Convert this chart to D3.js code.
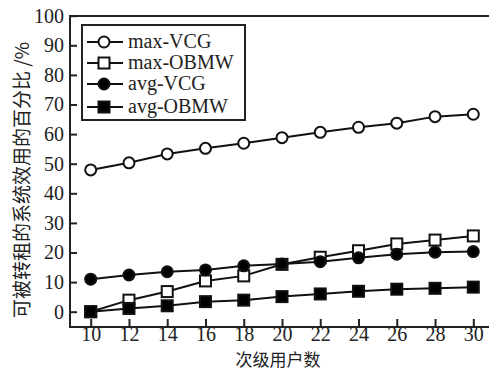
<!DOCTYPE html>
<html>
<head>
<meta charset="utf-8">
<script src="https://cdn.jsdelivr.net/npm/d3@7"></script>
<style>
  html, body { margin: 0; padding: 0; background: #fff; }
  svg { display: block; }
</style>
</head>
<body>
<div id="chart"></div>
<script>
// data
const users = [10, 12, 14, 16, 18, 20, 22, 24, 26, 28, 30];
const maxVCG = [47.9, 50.3, 53.3, 55.2, 56.9, 58.8, 60.6, 62.3, 63.7, 65.9, 66.7];
const maxOBMW = [0, 3.9, 6.8, 10.4, 12.1, 16.0, 18.4, 20.6, 22.9, 24.2, 25.6];
const avgVCG = [11.0, 12.4, 13.5, 14.1, 15.5, 16.1, 16.9, 18.2, 19.4, 20.1, 20.3];
const avgOBMW = [0, 1.1, 2.0, 3.4, 3.9, 5.1, 6.0, 6.9, 7.6, 7.9, 8.3];
const yTicks = [0, 10, 20, 30, 40, 50, 60, 70, 80, 90, 100];
const xTicks = [10, 12, 14, 16, 18, 20, 22, 24, 26, 28, 30];

const series = [
  { name: 'max-VCG', values: maxVCG, shape: 'circle', fill: '#fff' },
  { name: 'max-OBMW', values: maxOBMW, shape: 'square', fill: '#fff' },
  { name: 'avg-VCG', values: avgVCG, shape: 'circle', fill: '#000' },
  { name: 'avg-OBMW', values: avgOBMW, shape: 'square', fill: '#000' }
];

const W = 489, H = 371;
const frame = { left: 70, top: 16, right: 495, bottom: 327 };
const serif = '"Liberation Serif", "DejaVu Serif", serif';
const cjk = '"Noto Sans CJK SC", sans-serif';

const svg = d3.select('#chart').append('svg')
  .attr('width', W)
  .attr('height', H);

const x = d3.scaleLinear().domain([10, 30]).range([90.7, 473.3]);
const y = d3.scaleLinear().domain([0, 100]).range([311.7, 15.7]);

// frame
svg.append('rect')
  .attr('x', frame.left)
  .attr('y', frame.top)
  .attr('width', frame.right - frame.left)
  .attr('height', frame.bottom - frame.top)
  .attr('fill', 'none')
  .attr('stroke', '#222')
  .attr('stroke-width', 2);

// y axis (ticks point inward)
const yAxis = svg.append('g')
  .attr('transform', `translate(${frame.left},0)`)
  .call(d3.axisLeft(y).tickValues(yTicks).tickSize(-7).tickPadding(6));
yAxis.select('.domain').remove();
yAxis.selectAll('line').attr('stroke', '#222').attr('stroke-width', 2);
yAxis.selectAll('text')
  .attr('font-family', serif)
  .attr('font-size', 20)
  .attr('fill', '#222');

// x axis
const xAxis = svg.append('g')
  .attr('transform', `translate(0,${frame.bottom})`)
  .call(d3.axisBottom(x).tickValues(xTicks).tickSize(-8).tickPadding(0));
xAxis.select('.domain').remove();
xAxis.selectAll('line').attr('stroke', '#222').attr('stroke-width', 2);
xAxis.selectAll('text')
  .attr('font-family', serif)
  .attr('font-size', 20)
  .attr('fill', '#222');

// axis titles
svg.append('text')
  .attr('x', 278)
  .attr('y', 365.5)
  .attr('text-anchor', 'middle')
  .attr('font-family', cjk)
  .attr('font-size', 17)
  .attr('fill', '#222')
  .text('次级用户数');

svg.append('text')
  .attr('transform', 'translate(29,180) rotate(-90)')
  .attr('text-anchor', 'middle')
  .attr('font-family', cjk)
  .attr('font-size', 19)
  .attr('fill', '#222')
  .text('可被转租的系统效用的百分比 /%');

// marker helper
function drawMarker(sel, shape, fill) {
  if (shape === 'circle') {
    sel.append('circle')
      .attr('r', 5.5)
      .attr('fill', fill)
      .attr('stroke', '#111')
      .attr('stroke-width', 2);
  } else {
    sel.append('rect')
      .attr('x', -5.5)
      .attr('y', -5.5)
      .attr('width', 11)
      .attr('height', 11)
      .attr('fill', fill)
      .attr('stroke', '#111')
      .attr('stroke-width', 2);
  }
}

const line = d3.line()
  .x((d, i) => x(users[i]))
  .y(d => y(d));

// draw lines first, markers on top
series.forEach(s => {
  svg.append('path')
    .attr('d', line(s.values))
    .attr('fill', 'none')
    .attr('stroke', '#111')
    .attr('stroke-width', 2);
});

series.forEach(s => {
  s.values.forEach((v, i) => {
    const g = svg.append('g').attr('transform', `translate(${x(users[i])},${y(v)})`);
    drawMarker(g, s.shape, s.fill);
  });
});

// legend
svg.append('rect')
  .attr('x', 82)
  .attr('y', 25)
  .attr('width', 163)
  .attr('height', 95)
  .attr('fill', '#fff')
  .attr('stroke', '#222')
  .attr('stroke-width', 2);

const legendRows = [42, 63, 84, 107];
series.forEach((s, i) => {
  const ly = legendRows[i];
  svg.append('line')
    .attr('x1', 87).attr('x2', 123)
    .attr('y1', ly).attr('y2', ly)
    .attr('stroke', '#111')
    .attr('stroke-width', 2);
  const g = svg.append('g').attr('transform', `translate(104,${ly})`);
  drawMarker(g, s.shape, s.fill);
  svg.append('text')
    .attr('x', 128)
    .attr('y', ly + 6)
    .attr('font-family', serif)
    .attr('font-size', 20)
    .attr('fill', '#222')
    .text(s.name);
});
</script>
</body>
</html>
